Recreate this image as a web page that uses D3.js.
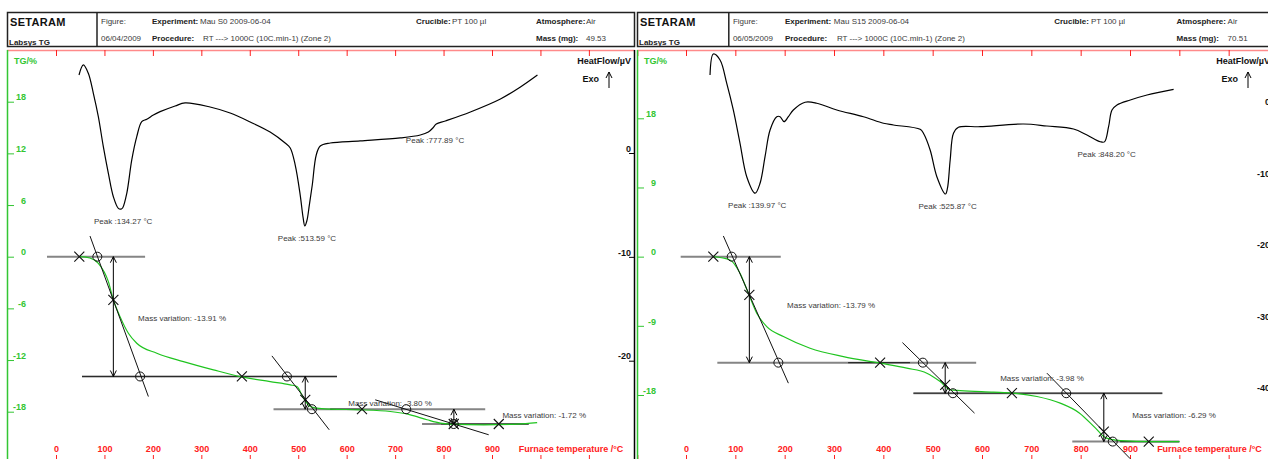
<!DOCTYPE html>
<html>
<head>
<meta charset="utf-8">
<script src="https://cdn.jsdelivr.net/npm/d3@7"></script>
<style>
  body { margin: 0; background: #fff; }
  svg { display: block; font-family: "Liberation Sans", Arial, sans-serif; }
</style>
</head>
<body>
<svg id="chart" width="1268" height="459"></svg>
<script>
  // ---- shared ticks / labels
  const tempTicks = [0, 100, 200, 300, 400, 500, 600, 700, 800, 900, 1000, 1100, 1200];
  const tempLabelMax = 900;
  const procedure = 'RT ---> 1000C (10C.min-1) (Zone 2)';
  const crucible = 'PT 100 µl';
  const atmosphere = 'Air';

  // ---- sample S0 (left)
  const s0Info = ['Mau S0 2009-06-04', '06/04/2009', '49.53'];
  const s0TgTicks = [18, 12, 6, 0, -6, -12, -18];
  const s0HfTicks = [0, -10, -20];
  // [temperature, heat flow µV]
  const s0Dsc = [
    [47.5, 7.51], [56.4, 8.48], [66.7, 7.68], [77.1, 5.75], [87.4, 3.5], [97.7, 0.61],
    [108.1, -1.96], [118.4, -4.21], [128.7, -5.33], [134.3, -5.4], [137.8, -5.27],
    [146.1, -3.88], [156.4, -0.67], [166.7, 1.57], [177, 3.02], [187.4, 3.25], [201, 3.66],
    [214.9, 3.98], [245.9, 4.53], [266.5, 4.82], [318, 4.43], [359.5, 3.85], [400.8, 2.99],
    [442, 2.02], [473, 0.96], [483.5, 0.48], [493.8, -1.16], [504.1, -4.05], [510, -6.2],
    [513.6, -7.03], [518, -6.5], [523, -5.0], [529, -3.08], [537.2, -0.19], [545.5, 0.67],
    [566, 0.96], [628, 1.16], [710.7, 1.45], [752, 1.73], [768.6, 2.02], [777.9, 2.41],
    [785, 2.79], [803.7, 3.08], [855.4, 3.95], [917.4, 5.2], [958.7, 6.36], [993.8, 7.51]
  ];
  // [temperature, TG %]
  const s0Tg = [
    [49.6, 0], [70, -0.15], [87.4, -0.77], [108.1, -2.9], [118.4, -5.02], [132.2, -6.96],
    [149.4, -8.89], [166.7, -10.05], [208.1, -11.21], [263, -12.18], [325, -13.14],
    [380.2, -13.92], [442.1, -14.5], [483.5, -14.88], [497.3, -15.08], [511, -16.43],
    [524.8, -17.4], [538.6, -17.59], [566.1, -17.7], [628.1, -17.78], [690, -17.98],
    [731.4, -18.36], [765.9, -18.94], [793.4, -19.33], [814, -19.44], [882.9, -19.52],
    [951.9, -19.44], [993.2, -19.26]
  ];
  // peaks: [temperature, heat flow at peak]
  const s0Peaks = [[134.27, -5.4], [513.59, -7.03], [777.89, 2.41]];
  // baselines: [TG, T from, T to]
  const s0Baselines = [[0, -18.6, 183.9], [-13.91, 53.7, 580], [-17.71, 449, 886], [-19.43, 755.6, 975.8]];
  const s0BaseDark = [[-13.91, 53.7, 580], [-17.71, 566, 628], [-19.43, 795, 975.8]];
  // tangents: [T1, TG1, T2, TG2]
  const s0Tangents = [[70.2, 2.4, 190.7, -16.24], [445.7, -11.52, 564, -20.1], [659, -16.62, 893.2, -20.68]];
  const s0Crosses = [[48.1, 0], [118.4, -5.02], [383.7, -13.91], [514.5, -16.62], [631.6, -17.71], [821, -19.43], [914, -19.43]];
  const s0Circles = [[85.3, 0], [173.6, -13.91], [476.7, -13.91], [528.3, -17.71], [723, -17.71], [821, -19.43]];
  // mass steps: [T, TG top, TG bottom]
  const s0Steps = [[118.4, 0, -13.91], [514.5, -13.91, -17.71], [821.3, -17.71, -19.43]];
  // labels: [text, T, TG]
  const s0MassLabels = [['Mass variation: -13.91 %', 169.4, -7.46], ['Mass variation: -3.80 %', 603.3, -17.32], ['Mass variation: -1.72 %', 921.5, -18.71]];

  // ---- sample S15 (right)
  const s15Info = ['Mau S15 2009-06-04', '06/05/2009', '70.51'];
  const s15TgTicks = [18, 9, 0, -9, -18];
  const s15HfTicks = [0, -10, -20, -30, -40];
  const s15Dsc = [
    [48.7, 4.43], [55.4, 7.37], [69, 6.53], [82.6, 3.27], [95.9, -0.46], [109.5, -5.12],
    [123.1, -9.79], [140, -12.1], [150.1, -10.71], [160.2, -6.99], [170.4, -3.26], [184, -1.4],
    [190.7, -1.4], [198.8, -2.1], [207.5, -1.4], [217.6, -0.46], [241.4, 0.62], [265.1, 0.48],
    [305.7, -0.46], [359.6, -1.4], [400.2, -2.32], [420.5, -2.56], [474.6, -3.16], [481.3, -3.72],
    [494.9, -6.06], [508.5, -9.79], [525.9, -12.21], [530, -11.4], [535.5, -7.45], [542.2, -3.72],
    [552.3, -2.88], [596.3, -2.8], [684.2, -2.42], [731.6, -2.7], [785.6, -3.12], [812.8, -3.96],
    [839.8, -4.9], [848.2, -4.92], [856.6, -2.8], [863.5, -0.46], [873.6, 0.24], [900.6, 0.94],
    [934.5, 1.64], [988.4, 2.43]
  ];
  const s15Tg = [
    [55.4, 0], [89.2, -0.43], [109.5, -2.16], [126.4, -4.76], [143.4, -7.36], [163.7, -9.1],
    [197.4, -10.4], [251.5, -11.91], [319.1, -13.0], [393.5, -13.86], [447.7, -14.51],
    [488.2, -15.16], [515.2, -16.25], [535.5, -17.33], [555.8, -17.43], [623.3, -17.63],
    [663.9, -17.76], [711.4, -18.2], [758.6, -19.06], [797.2, -20.33], [829.6, -22.28],
    [850.9, -23.58], [880.3, -23.93], [945.2, -24.06], [1000, -24.06]
  ];
  const s15Peaks = [[139.97, -12.1], [525.87, -12.21], [848.2, -4.92]];
  const s15Baselines = [[0, -10.8, 192.1], [-13.79, 63.5, 588.2], [-17.77, 461, 965.5], [-24.06, 783, 1000]];
  const s15BaseDark = [[-13.79, 328.6, 454], [-17.77, 461, 965.5], [-24.06, 880, 1000]];
  const s15Tangents = [[75.7, 2.69, 207.5, -16.46], [438.7, -11.18, 584.8, -20.36], [731.6, -15.16, 900.6, -26.3]];
  const s15Crosses = [[55.4, 0], [128.4, -4.98], [393.5, -13.79], [525.4, -16.68], [660.6, -17.77], [846.9, -22.76], [938, -24.06]];
  const s15Circles = [[92.7, 0], [187.2, -13.79], [480.1, -13.79], [541, -17.77], [770.8, -17.77], [865, -24.06]];
  const s15Steps = [[128.4, 0, -13.79], [525.4, -13.79, -17.77], [846.9, -17.77, -24.06]];
  const s15MassLabels = [['Mass variation: -13.79 %', 204.9, -6.67], ['Mass variation: -3.98 %', 636.9, -16.16], ['Mass variation: -6.29 %', 904.7, -20.96]];

  const GREEN = '#33c633', TGLINE = '#1fc41f', RED = '#ff2020', TEXT = '#3a3a3a';
  const svg = d3.select('#chart');

  const panels = [
    { x0: 7, s: 1, xRange: [56, 492], tgRange: [101.7, 411.7], tgTicks: s0TgTicks,
      hfDomain: [0, -20], hfRange: [153, 360.7], hfTicks: s0HfTicks, hfAxis: 635,
      info: s0Info, dsc: s0Dsc, tg: s0Tg, peaks: s0Peaks, baselines: s0Baselines, dark: s0BaseDark,
      tangents: s0Tangents, crosses: s0Crosses, circles: s0Circles, steps: s0Steps, labels: s0MassLabels },
    { x0: 637, s: 1.02, xRange: [686, 1130], tgRange: [118.3, 395], tgTicks: s15TgTicks,
      hfDomain: [0, -40], hfRange: [106.7, 392.7], hfTicks: s15HfTicks, hfAxis: 1274,
      info: s15Info, dsc: s15Dsc, tg: s15Tg, peaks: s15Peaks, baselines: s15Baselines, dark: s15BaseDark,
      tangents: s15Tangents, crosses: s15Crosses, circles: s15Circles, steps: s15Steps, labels: s15MassLabels }
  ];

  panels.forEach(drawPanel);

  function txt(g, x, y, s, opts) {
    opts = opts || {};
    return g.append('text').attr('x', x).attr('y', y).text(s)
      .attr('font-size', opts.size || 8)
      .attr('font-weight', opts.bold ? 'bold' : null)
      .attr('fill', opts.fill || TEXT)
      .attr('text-anchor', opts.anchor || 'start');
  }

  function head(g, x, y, up) {
    const k = up ? 1 : -1;
    g.append('path').attr('d', `M${x - 3},${y + 6 * k}L${x},${y}L${x + 3},${y + 6 * k}`)
      .attr('fill', 'none').attr('stroke', '#000');
  }

  function vArrow(g, x, y1, y2) {
    g.append('line').attr('x1', x).attr('x2', x).attr('y1', y1).attr('y2', y2)
      .attr('stroke', '#000').attr('stroke-width', 1);
    head(g, x, y1, true);
    head(g, x, y2, false);
  }

  function drawPanel(p) {
    const g = svg.append('g');
    const s = p.s, X = p.x0;
    const x = d3.scaleLinear().domain([0, 900]).range(p.xRange);
    const yTg = d3.scaleLinear().domain([18, -18]).range(p.tgRange);
    const yHf = d3.scaleLinear().domain(p.hfDomain).range(p.hfRange);

    /*
     * header
     */
    const hd = g.append('g');
    hd.append('rect').attr('x', X + 0.5).attr('y', 12.5).attr('width', 627 * s).attr('height', 34)
      .attr('fill', 'none').attr('stroke', '#222').attr('stroke-width', 1.5);
    hd.append('line').attr('x1', X + 90 * s).attr('x2', X + 90 * s).attr('y1', 12.5).attr('y2', 46.5)
      .attr('stroke', '#222').attr('stroke-width', 1.5);
    txt(hd, X + 3, 26, 'SETARAM', { size: 11, bold: true, fill: '#111' }).attr('letter-spacing', 0.3);
    txt(hd, X + 2, 44.5, 'Labsys TG', { bold: true, fill: '#222' });
    txt(hd, X + 94 * s, 24, 'Figure:');
    txt(hd, X + 145 * s, 24, 'Experiment:', { bold: true, fill: '#222' });
    txt(hd, X + 193 * s, 24, p.info[0]);
    txt(hd, X + 409 * s, 24, 'Crucible:', { bold: true, fill: '#222' });
    txt(hd, X + 445 * s, 24, crucible);
    txt(hd, X + 529 * s, 24, 'Atmosphere:', { bold: true, fill: '#222' });
    txt(hd, X + 579 * s, 24, atmosphere);
    txt(hd, X + 94 * s, 41, p.info[1]);
    txt(hd, X + 145 * s, 41, 'Procedure:', { bold: true, fill: '#222' });
    txt(hd, X + 196 * s, 41, procedure);
    txt(hd, X + 529 * s, 41, 'Mass (mg):', { bold: true, fill: '#222' });
    txt(hd, X + 579 * s, 41, p.info[2]);

    /*
     * frame + axes
     */
    g.append('line').attr('x1', X).attr('x2', p.hfAxis).attr('y1', 50.5).attr('y2', 50.5)
      .attr('stroke', '#ff8a8a').attr('stroke-width', 1.5);
    g.append('line').attr('x1', X + 0.5).attr('x2', X + 0.5).attr('y1', 50).attr('y2', 459)
      .attr('stroke', GREEN).attr('stroke-width', 1.5);
    g.append('line').attr('x1', p.hfAxis - 0.5).attr('x2', p.hfAxis - 0.5).attr('y1', 50).attr('y2', 459)
      .attr('stroke', '#000').attr('stroke-width', 1.5);

    const topAxis = d3.axisBottom(x).tickValues(tempTicks).tickSize(6).tickFormat('');
    const ta = g.append('g').attr('transform', 'translate(0,50)').call(topAxis);
    ta.select('.domain').remove();
    ta.selectAll('.tick line').attr('stroke', RED);

    const botAxis = d3.axisTop(x).tickValues(tempTicks).tickSize(-4).tickPadding(3)
      .tickFormat(d => d <= tempLabelMax ? String(d) : '');
    const ba = g.append('g').attr('transform', 'translate(0,455)').call(botAxis);
    ba.select('.domain').remove();
    ba.selectAll('.tick line').attr('stroke', RED);
    ba.selectAll('.tick text').attr('fill', RED).attr('font-weight', 'bold')
      .attr('font-size', 9).attr('font-family', null);
    txt(g, x(955), 452, 'Furnace temperature /°C', { size: 9, bold: true, fill: RED });

    const tgAxis = d3.axisRight(yTg).tickValues(p.tgTicks).tickSize(7).tickFormat(d => String(d));
    const tga = g.append('g').attr('transform', `translate(${X},0)`).call(tgAxis);
    tga.select('.domain').remove();
    tga.selectAll('.tick line').attr('stroke', GREEN);
    tga.selectAll('.tick text').attr('x', 19).attr('dy', '-0.2em').attr('text-anchor', 'end')
      .attr('fill', GREEN).attr('font-weight', 'bold').attr('font-size', 9).attr('font-family', null);
    txt(g, X + 7, 64, 'TG/%', { size: 9, bold: true, fill: GREEN });

    const hfAxis = d3.axisLeft(yHf).tickValues(p.hfTicks).tickSize(6).tickFormat(d => String(d));
    const hfa = g.append('g').attr('transform', `translate(${p.hfAxis},0)`).call(hfAxis);
    hfa.select('.domain').remove();
    hfa.selectAll('.tick line').attr('stroke', '#000');
    hfa.selectAll('.tick text').attr('x', -4).attr('dy', '-0.2em').attr('text-anchor', 'end')
      .attr('fill', '#111').attr('font-weight', 'bold').attr('font-size', 9).attr('font-family', null);
    txt(g, p.hfAxis - 4, 64, 'HeatFlow/µV', { size: 9, bold: true, fill: '#111', anchor: 'end' });
    txt(g, p.hfAxis - 36, 82, 'Exo', { size: 9, bold: true, fill: '#111', anchor: 'end' });
    g.append('line').attr('x1', p.hfAxis - 26).attr('x2', p.hfAxis - 26).attr('y1', 72).attr('y2', 88)
      .attr('stroke', '#000');
    head(g, p.hfAxis - 26, 72, true);

    /*
     * TG analysis annotations
     */
    const an = g.append('g');
    an.selectAll('line.base').data(p.baselines).enter().append('line')
      .attr('x1', d => x(d[1])).attr('x2', d => x(d[2]))
      .attr('y1', d => yTg(d[0])).attr('y2', d => yTg(d[0]))
      .attr('stroke', '#858585').attr('stroke-width', 2);
    an.selectAll('line.dark').data(p.dark).enter().append('line')
      .attr('x1', d => x(d[1])).attr('x2', d => x(d[2]))
      .attr('y1', d => yTg(d[0])).attr('y2', d => yTg(d[0]))
      .attr('stroke', '#2a2a2a').attr('stroke-width', 1.2);

    // TG curve
    const tgLine = d3.line().x(d => x(d[0])).y(d => yTg(d[1])).curve(d3.curveMonotoneX);
    g.append('path').datum(p.tg).attr('d', tgLine)
      .attr('fill', 'none').attr('stroke', TGLINE).attr('stroke-width', 1.2);

    const an2 = g.append('g');
    an2.selectAll('line.tan').data(p.tangents).enter().append('line')
      .attr('x1', d => x(d[0])).attr('y1', d => yTg(d[1]))
      .attr('x2', d => x(d[2])).attr('y2', d => yTg(d[3]))
      .attr('stroke', '#111').attr('stroke-width', 1);
    an2.selectAll('path.cross').data(p.crosses).enter().append('path')
      .attr('d', d => {
        const cx = x(d[0]), cy = yTg(d[1]);
        return `M${cx - 5},${cy - 5}L${cx + 5},${cy + 5}M${cx - 5},${cy + 5}L${cx + 5},${cy - 5}`;
      })
      .attr('stroke', '#111').attr('stroke-width', 1.1).attr('fill', 'none');
    an2.selectAll('circle').data(p.circles).enter().append('circle')
      .attr('cx', d => x(d[0])).attr('cy', d => yTg(d[1])).attr('r', 4.5)
      .attr('fill', 'none').attr('stroke', '#111').attr('stroke-width', 1);
    p.steps.forEach(d => vArrow(an2, x(d[0]), yTg(d[1]), yTg(d[2])));
    p.labels.forEach(d => txt(an2, x(d[1]), yTg(d[2]), d[0]));

    /*
     * DSC curve + peaks
     */
    const hfLine = d3.line().x(d => x(d[0])).y(d => yHf(d[1])).curve(d3.curveCatmullRom.alpha(0.5));
    g.append('path').datum(p.dsc).attr('d', hfLine)
      .attr('fill', 'none').attr('stroke', '#000').attr('stroke-width', 1.2);
    p.peaks.forEach(d => {
      txt(g, x(d[0]) - 27, yHf(d[1]) + 15, 'Peak :' + d[0].toFixed(2) + ' °C');
    });
  }
</script>
</body>
</html>
